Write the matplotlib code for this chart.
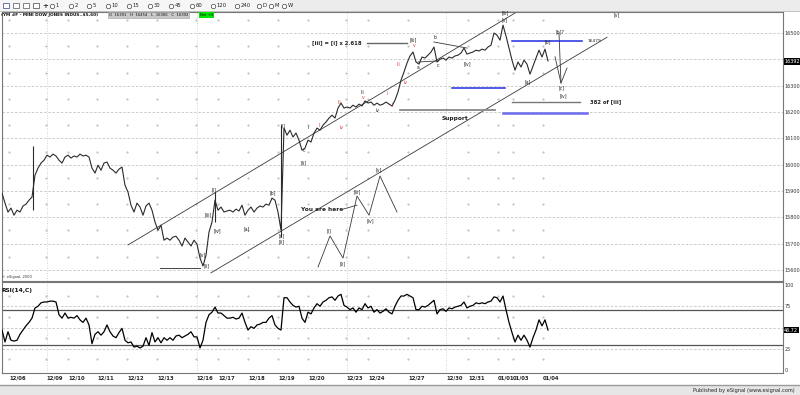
import matplotlib
matplotlib.use('Agg')
import matplotlib.pyplot as plt
import numpy as np

# YM #F 60-min closes, one sample every 3 bar slots starting at slot 2
price = [15892, 15854, 15820, 15835, 15808, 15827, 15820, 15843, 15850, 15865,
         15877, 15960, 15987, 16006, 16017, 16036, 16029, 16040, 16033, 16017,
         16006, 16029, 16036, 16025, 16033, 16029, 16040, 16033, 16036, 16029,
         15987, 15968, 15998, 15979, 16006, 16010, 15987, 15979, 15968, 15983,
         15991, 15922, 15896, 15846, 15820, 15854, 15839, 15808, 15843, 15854,
         15827, 15782, 15751, 15770, 15713, 15721, 15713, 15725, 15728, 15713,
         15691, 15721, 15706, 15691, 15713, 15698, 15645, 15615, 15656, 15744,
         15782, 15865, 15827, 15839, 15820, 15824, 15827, 15820, 15831, 15824,
         15846, 15808, 15827, 15839, 15820, 15835, 15843, 15839, 15850, 15846,
         15873, 15865, 15820, 15751, 16139, 16112, 16131, 16105, 16120, 16093,
         16055, 16063, 16093, 16086, 16120, 16139, 16131, 16150, 16162, 16177,
         16188, 16177, 16215, 16234, 16215, 16219, 16215, 16226, 16219, 16230,
         16223, 16242, 16234, 16238, 16226, 16234, 16226, 16230, 16238, 16230,
         16223, 16245, 16276, 16321, 16352, 16386, 16413, 16428, 16390, 16382,
         16409, 16405, 16416, 16428, 16447, 16390, 16401, 16405, 16397, 16409,
         16405, 16413, 16416, 16424, 16443, 16420, 16424, 16428, 16435, 16432,
         16439, 16435, 16447, 16454, 16500, 16492, 16473, 16530, 16489, 16443,
         16397, 16359, 16390, 16371, 16397, 16382, 16344, 16375, 16405, 16435,
         16409, 16439, 16394]

rsi = [47, 33, 45, 35, 34, 35, 42, 47, 52, 56,
       61, 73, 75, 79, 80, 80, 81, 81, 80, 65,
       61, 67, 61, 62, 61, 64, 59, 56, 61, 53,
       31, 42, 45, 41, 45, 53, 45, 40, 38, 44,
       49, 35, 32, 33, 27, 28, 26, 28, 38, 29,
       44, 33, 38, 32, 38, 35, 38, 35, 40, 41,
       38, 40, 42, 45, 39, 39, 26, 35, 56, 65,
       68, 74, 67, 67, 64, 61, 61, 62, 60, 61,
       67, 56, 47, 51, 49, 53, 54, 56, 56, 61,
       64, 53, 49, 47, 85, 85, 80, 76, 74, 75,
       61, 56, 68, 66, 73, 78, 75, 80, 82, 85,
       86, 82, 87, 89, 76, 74, 71, 73, 68, 73,
       71, 78, 73, 75, 68, 71, 67, 69, 72, 68,
       66, 75, 82, 87, 87, 89, 87, 85, 71, 71,
       75, 74, 76, 79, 82, 66, 71, 72, 69, 73,
       72, 74, 75, 76, 80, 73, 75, 76, 79, 78,
       79, 78, 80, 81, 86, 85, 80, 87, 71, 56,
       44, 33, 41, 35, 41, 35, 27, 38, 47, 59,
       52, 59, 47]

slot0 = 2
slot_step = 3

# big range bars the close line does not show (slot, high, low)
spike_slot = [33, 215, 281]
spike_high = [16071, 15896, 16150]
spike_low = [15827, 15782, 15725]

date_labels = ['12/06', '12/09', '12/10', '12/11', '12/12', '12/13', '12/16', '12/17',
               '12/18', '12/19', '12/20', '12/23', '12/24', '12/27', '12/30', '12/31',
               '01/01', '01/03', '01/04']
date_slots = [9, 46, 68, 97, 127, 157, 196, 218, 248, 278, 308, 346, 368, 408, 446,
              468, 498, 513, 543]
week_slots = [47, 197, 347, 446]

# right scale labels (16400 sits under the last-price box)
price_grid = [15600, 15700, 15800, 15900, 16000, 16100, 16200, 16300, 16400, 16500]
price_labels = [15600, 15700, 15800, 15900, 16000, 16100, 16200, 16300, 16500]

last_price = 16392
last_rsi = 46.72

# drawn analysis: channels and lines (slots, prices)
upper_channel = ([128, 522], [15695, 16592])
lower_channel = ([211, 607], [15589, 16484])
base_line = ([160, 200], [15607, 15607])
ext_line = ([367, 407], [16462, 16462])
support_line = ([400, 495], [16207, 16207])
fib382_line = ([512, 580], [16238, 16238])
blue_lines = [([452, 505], [16291, 16291]), ([512, 582], [16470, 16470])]
blue_wide = ([503, 587], [16196, 16196])
tri_upper = ([434, 467], [16466, 16443])
tri_lower = ([418, 438], [16390, 16394])
# "you are here" wave sketch
sketch_x = [318, 330, 343, 357, 369, 380, 397]
sketch_p = [15611, 15729, 15645, 15881, 15808, 15957, 15820]
proj1_x = [559, 561]
proj1_p = [16500, 16310]
proj2_x = [555, 561, 567]
proj2_p = [16410, 16310, 16367]

W, H = 800, 395
fig = plt.figure(figsize=(W / 100, H / 100), dpi=100)
fig.patch.set_facecolor('white')


def px_axes(x0, y0, x1, y1, **kw):
    return fig.add_axes([x0 / W, 1 - y1 / H, (x1 - x0) / W, (y1 - y0) / H], **kw)


# chrome layer in pixel coords
ov = px_axes(0, 0, W, H)
ov.set_xlim(0, W)
ov.set_ylim(H, 0)
ov.axis('off')
ov.add_patch(plt.Rectangle((0, 0), W, 11, color='#ececec', lw=0))
ov.add_patch(plt.Rectangle((0, 0), 290, 11, color='#f6f6f6', lw=0))
ov.plot([0, W], [11, 11], color='#b8b8b8', lw=0.6)
ov.add_patch(plt.Rectangle((0, 385), W, 10, color='#e6e6e6', lw=0))
ov.plot([0, W], [385, 385], color='#9a9a9a', lw=1.0)
ov.text(795, 390.5, 'Published by eSignal (www.esignal.com)', fontsize=3.6,
        ha='right', va='center', color='#222')

# toolbar
for i, c in enumerate(['#5060a0', '#707070', '#707070', '#606060']):
    ov.add_patch(plt.Rectangle((3 + i * 10, 3), 6, 5, facecolor='white', edgecolor=c, lw=0.6))
ov.text(45, 5.8, '+', fontsize=5, ha='center', va='center', color='#333', weight='bold')
tool_names = ['1', '2', '5', '10', '15', '30', '45', '60', '120', '240', 'D', 'M', 'W']
tool_x = [52, 71, 89, 108, 129, 150, 171, 192, 213, 237, 259, 271, 284]
for name, tx in zip(tool_names, tool_x):
    ov.plot(tx, 5.8, 'o', ms=3.2, mfc='white', mec='#444', mew=0.5)
    ov.text(tx + 3.5, 5.8, name, fontsize=3.8, va='center', ha='left', color='#222')

# date labels
for lab, s in zip(date_labels, date_slots):
    ov.text(s, 377.5, lab, fontsize=3.8, ha='left', va='center', color='#222', weight='bold')

# price panel
ax = px_axes(2, 12, 783, 281)
ax.set_xlim(2, 783)
ax.set_ylim(15558, 16580)
ax.set_xticks([])
ax.yaxis.tick_right()
ax.set_yticks(price_labels)
ax.tick_params(axis='y', length=0, pad=1.2, labelsize=3.5, colors='#333')
for sp in ax.spines.values():
    sp.set_color('#777')
    sp.set_linewidth(0.8)
for p in price_grid:
    ax.axhline(p, color='#c4c4c4', lw=0.6, ls=(0, (3, 2)), zorder=0)
for s in week_slots:
    ax.axvline(s, color='#c4c4c4', lw=0.6, ls=(0, (1, 2)), zorder=0)
for s in date_slots:
    if s not in week_slots and abs(s - 446) > 3:
        ax.plot([s] * 10, np.arange(15650, 16551, 100), ls='none', marker='.', ms=0.9,
                color='#b0b0b0', zorder=0)

xs = slot0 + slot_step * np.arange(len(price))
ax.plot(xs, price, color='#2a2a2a', lw=0.8, zorder=3)
ax.vlines(spike_slot, spike_low, spike_high, color='#2a2a2a', lw=0.8, zorder=3)

line_kw = dict(color='#3a3a3a', lw=0.6, zorder=2)
ax.plot(*upper_channel, **line_kw)
ax.plot(*lower_channel, **line_kw)
ax.plot(*tri_upper, **line_kw)
ax.plot(*tri_lower, **line_kw)
ax.plot(sketch_x, sketch_p, **line_kw)
ax.plot(proj1_x, proj1_p, **line_kw)
ax.plot(proj2_x, proj2_p, **line_kw)
ax.plot([343, 357], [15831, 15846], **line_kw)
ax.plot(*base_line, color='#444', lw=0.7)
ax.plot(*ext_line, color='#666', lw=1.0)
ax.plot(*support_line, color='#888', lw=1.3)
ax.plot(*fib382_line, color='#777', lw=1.0)
for bl in blue_lines:
    ax.plot(*bl, color='#1f2fe0', lw=1.1, zorder=2)
ax.plot(*blue_wide, color='#6c6cf0', lw=1.8, zorder=2)

tk = dict(fontsize=3.3, ha='center', va='center', color='#222', zorder=4)
black_labels = [('[iii]', 505, 16576), ('[v]', 505, 16549), ('[v]', 617, 16568),
                ('[b]?', 560, 16505), ('[b]', 548, 16466), ('[a]', 528, 16314),
                ('[c]', 562, 16291), ('[iv]', 563, 16261), ('[iv]', 467, 16382),
                ('[iii]', 413, 16473), ('b', 435, 16485), ('a', 418, 16371),
                ('c', 438, 16378), ('iii', 363, 16276), ('iv', 378, 16204),
                ('[i]', 283, 16147), ('c', 304, 16055), ('[ii]', 304, 16006),
                ('[i]', 214, 15905), ('[iii]', 208, 15808), ('[iv]', 217, 15748),
                ('[v]', 203, 15656), ('[ii]', 207, 15615), ('[a]', 247, 15755),
                ('[b]', 273, 15892), ('[c]', 282, 15729), ('[ii]', 282, 15706),
                ('i', 308, 16140), ('[i]', 329, 15750), ('[ii]', 343, 15622),
                ('[iii]', 357, 15895), ('[iv]', 370, 15786), ('[v]', 379, 15980)]
for t, s, p in black_labels:
    ax.text(s, p, t, **tk)
red_labels = [('v', 414, 16451), ('iii', 399, 16382), ('iv', 406, 16314),
              ('iii', 340, 16238), ('v', 363, 16257), ('iv', 342, 16143),
              ('ii', 393, 16223), ('i', 387, 16272), ('ii', 320, 16150)]
for t, s, p in red_labels:
    ax.text(s, p, t, **{**tk, 'color': '#e03030'})

ax.text(362, 16462, '[iii] = [i] x 2.618', fontsize=3.8, ha='right', va='center',
        color='#222', weight='bold')
ax.text(455, 16177, 'Support', fontsize=4.2, ha='center', va='center', color='#222',
        weight='bold')
ax.text(590, 16238, '382 of [iii]', fontsize=3.8, ha='left', va='center', color='#222',
        weight='bold')
ax.text(588, 16470, '16479', fontsize=3.2, ha='left', va='center', color='#222')
ax.text(322, 15831, 'You are here', fontsize=4.2, ha='center', va='center', color='#222',
        weight='bold')

ax.text(1.0015, last_price, str(last_price), transform=ax.get_yaxis_transform(),
        fontsize=3.5, ha='left', va='center', color='white',
        bbox=dict(boxstyle='square,pad=0.12', fc='black', ec='none'), zorder=5)

# header
ax.text(1, 16568, '(YM #F - MINI DOW JONES INDUS..$5,60)', fontsize=3.1, ha='left',
        va='center', color='#111', weight='bold')
ax.text(109, 16568, 'O  16391   H  16454   L  16306   C  16392', fontsize=2.7, ha='left',
        va='center', color='#111',
        bbox=dict(boxstyle='square,pad=0.3', fc='#c8c8c8', ec='#a0a0a0', lw=0.4))
ax.text(200, 16568, 'Net +8', fontsize=2.7, ha='left', va='center', color='#111',
        bbox=dict(boxstyle='square,pad=0.3', fc='#00e600', ec='none'))
ax.text(2, 15572, '© eSignal, 2000', fontsize=2.6, ha='left', va='center', color='#333')

# RSI panel
ar = px_axes(2, 282, 783, 373)
ar.set_xlim(2, 783)
ar.set_ylim(-3.5, 103.5)
ar.set_xticks([])
ar.yaxis.tick_right()
ar.set_yticks([0, 25, 75, 100])
ar.tick_params(axis='y', length=0, pad=1.2, labelsize=3.5, colors='#333')
for sp in ar.spines.values():
    sp.set_color('#777')
    sp.set_linewidth(0.8)
for lvl in [25, 50, 75]:
    ar.axhline(lvl, color='#c4c4c4', lw=0.6, ls=(0, (3, 2)), zorder=0)
for lvl in [30, 70]:
    ar.axhline(lvl, color='#555', lw=0.9, zorder=1)
for s in week_slots:
    ar.axvline(s, color='#c4c4c4', lw=0.6, ls=(0, (1, 2)), zorder=0)
for s in date_slots:
    if s not in week_slots and abs(s - 446) > 3:
        ar.plot([s] * 4, [12.5, 37.5, 62.5, 87.5], ls='none', marker='.', ms=0.9,
                color='#b0b0b0', zorder=0)
ar.plot(xs, rsi, color='black', lw=0.9, zorder=3)
ar.text(1, 94, 'RSI(14,C)', fontsize=4.2, ha='left', va='center', color='#111',
        weight='bold')
ar.text(1.0015, last_rsi, f'{last_rsi:.2f}', transform=ar.get_yaxis_transform(),
        fontsize=3.5, ha='left', va='center', color='white',
        bbox=dict(boxstyle='square,pad=0.12', fc='black', ec='none'), zorder=5)

fig.savefig('out.png', dpi=100)
